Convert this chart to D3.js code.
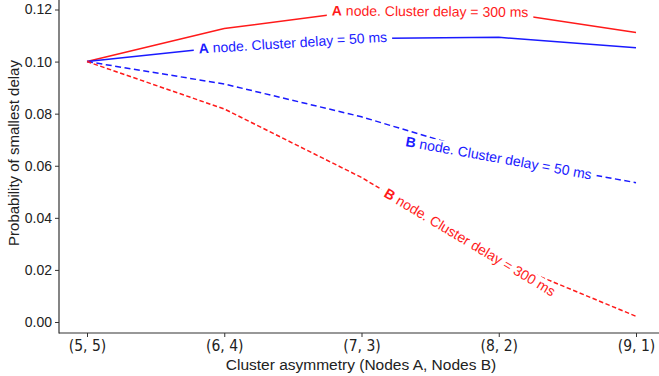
<!DOCTYPE html>
<html>
<head>
<meta charset="utf-8">
<script src="https://cdn.jsdelivr.net/npm/d3@7"></script>
<style>
  html, body { margin: 0; padding: 0; background: #fff; }
  svg { display: block; }
  .tick text { fill: #222; }
</style>
</head>
<body>
<svg id="chart" width="659" height="376"></svg>
<script>
// Cluster asymmetry categories (nodes in A, nodes in B)
const categories = ["(5, 5)", "(6, 4)", "(7, 3)", "(8, 2)", "(9, 1)"];

// Probability of smallest delay per series
const aNode300 = [0.100, 0.1127, 0.1195, 0.1191, 0.1112];
const aNode50  = [0.100, 0.1056, 0.1089, 0.1093, 0.1053];
const bNode50  = [0.100, 0.0914, 0.0788, 0.0630, 0.0535];
const bNode300 = [0.100, 0.0818, 0.0555, 0.0240, 0.0022];

const yTicks = [0.00, 0.02, 0.04, 0.06, 0.08, 0.10, 0.12];

// Series definitions: inline label, where along the line it sits (index units)
const series = [
  { values: aNode300, node: "A", text: " node. Cluster delay = 300 ms", color: "#ff1a1a", dash: null,   at: 2.5,  seg: 2 },
  { values: aNode50,  node: "A", text: " node. Cluster delay = 50 ms",  color: "#1a1aff", dash: null,   at: 1.5,  seg: 1 },
  { values: bNode50,  node: "B", text: " node. Cluster delay = 50 ms",  color: "#1a1aff", dash: "6,3.5", at: 3.0, seg: 3 },
  { values: bNode300, node: "B", text: " node. Cluster delay = 300 ms", color: "#ff1a1a", dash: "4.5,2.5", at: 2.79, seg: 2 }
];

const svg = d3.select("#chart");
const W = 659, H = 376;
const left = 59, bottom = 333;

const x = d3.scaleLinear().domain([0, categories.length - 1]).range([87, 636]);
const y0 = d3.scaleLinear().domain([0, 0.12]).range([322, 9.5]);
const y = d3.scaleLinear().domain([y0.invert(bottom), y0.invert(0)]).range([bottom, 0]);

// Axes
const font = "'Liberation Sans', Arial, Helvetica, sans-serif";
const yAxis = d3.axisLeft(y).tickValues(yTicks).tickFormat(d3.format(".2f")).tickSize(4).tickPadding(3);
const gy = svg.append("g").attr("transform", `translate(${left},0)`).call(yAxis);
gy.select(".domain").remove();
gy.selectAll(".tick line").attr("stroke", "#333").attr("stroke-width", 1);
gy.selectAll(".tick text").attr("font-family", font).attr("font-size", 14);

const xAxis = d3.axisBottom(x).tickValues(d3.range(categories.length)).tickFormat(i => categories[i]).tickSize(4).tickPadding(3);
const gx = svg.append("g").attr("transform", `translate(0,${bottom})`).call(xAxis);
gx.select(".domain").remove();
gx.selectAll(".tick line").attr("stroke", "#333").attr("stroke-width", 1);
gx.selectAll(".tick text")
  .attr("font-family", "'Liberation Sans Narrow', 'DejaVu Sans Condensed', sans-serif")
  .attr("font-size", 15.5);

// Spines
svg.append("line").attr("x1", left).attr("x2", left).attr("y1", 0).attr("y2", bottom + 0.5)
  .attr("stroke", "#333").attr("stroke-width", 1.2);
svg.append("line").attr("x1", left).attr("x2", W).attr("y1", bottom).attr("y2", bottom)
  .attr("stroke", "#333").attr("stroke-width", 1.2);

// Axis titles
svg.append("text").attr("x", 361).attr("y", 370).attr("text-anchor", "middle")
  .attr("font-family", font).attr("font-size", 15.5).attr("fill", "#222")
  .text("Cluster asymmetry (Nodes A, Nodes B)");
svg.append("text").attr("transform", `translate(19,${153}) rotate(-90)`).attr("text-anchor", "middle")
  .attr("font-family", font).attr("font-size", 15).attr("fill", "#222")
  .text("Probability of smallest delay");

// Lines
const line = d3.line().x((d, i) => x(i)).y(d => y(d));
const linesG = svg.append("g");
series.forEach(s => {
  linesG.append("path").datum(s.values).attr("d", line)
    .attr("fill", "none").attr("stroke", s.color).attr("stroke-width", 1.5)
    .attr("stroke-dasharray", s.dash);
});

// Inline labels sitting on their lines, with a white backing that breaks the line
const labelsG = svg.append("g");
series.forEach(s => {
  const i0 = Math.floor(s.at), f = s.at - i0;
  const v = f === 0 ? s.values[i0] : s.values[i0] + (s.values[i0 + 1] - s.values[i0]) * f;
  const px = x(s.at), py = y(v);
  const dx = x(s.seg + 1) - x(s.seg), dy = y(s.values[s.seg + 1]) - y(s.values[s.seg]);
  const ang = Math.atan2(dy, dx) * 180 / Math.PI;
  const g = labelsG.append("g").attr("transform", `translate(${px},${py}) rotate(${ang})`);
  const bg = g.append("rect").attr("fill", "#fff");
  const t = g.append("text").attr("text-anchor", "middle").attr("dy", "0.35em")
    .attr("font-family", font).attr("font-size", 14).attr("fill", s.color);
  t.append("tspan").attr("font-weight", "bold").text(s.node);
  t.append("tspan").text(s.text);
  const bb = t.node().getBBox();
  bg.attr("x", bb.x - 5).attr("y", bb.y + 1).attr("width", bb.width + 10).attr("height", bb.height - 2);
});
</script>
</body>
</html>
